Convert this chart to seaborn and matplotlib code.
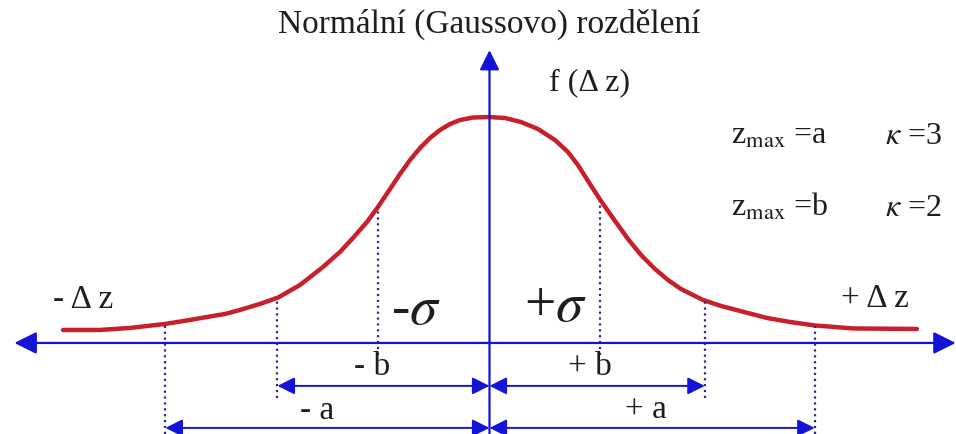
import numpy as np
import pandas as pd
import matplotlib
matplotlib.use('Agg')
import matplotlib.pyplot as plt
import seaborn as sns

sns.set_style('white')
plt.rcParams['font.family'] = ['Liberation Serif', 'DejaVu Serif']
plt.rcParams['mathtext.fontset'] = 'stix'

# curve, x in sigma units, y relative to peak
curve_x = [-3.842, -3.509, -3.239, -2.923, -2.698, -2.545, -2.383, -2.248, -2.068, -1.905,
           -1.707, -1.500, -1.347, -1.230, -1.104, -1.005, -0.896, -0.806, -0.716, -0.626,
           -0.536, -0.446, -0.356, -0.266, -0.149, 0.000, 0.140, 0.284, 0.437, 0.590,
           0.707, 0.797, 0.905, 1.005, 1.131, 1.248, 1.365, 1.491, 1.608, 1.725,
           1.923, 2.086, 2.239, 2.500, 2.707, 2.932, 3.275, 3.851]
curve_y = [0.0575, 0.0575, 0.0664, 0.0841, 0.1018, 0.1150, 0.1283, 0.1460, 0.1726, 0.2010,
           0.2566, 0.3363, 0.4027, 0.4646, 0.5354, 0.6018, 0.6814, 0.7478, 0.8097, 0.8628,
           0.9071, 0.9425, 0.9690, 0.9867, 0.9978, 1.0000, 0.9956, 0.9779, 0.9469, 0.8982,
           0.8451, 0.7876, 0.7035, 0.6283, 0.5398, 0.4602, 0.3894, 0.3274, 0.2788, 0.2389,
           0.1903, 0.1637, 0.1440, 0.1106, 0.0929, 0.0774, 0.0642, 0.0619]

# marked positions on the axis
sigma_pos = [-1.00, 1.00]
sigma_top = [0.602, 0.628]
b_pos = [-1.91, 1.94]
b_top = [0.199, 0.190]
a_pos = [-2.92, 2.93]
a_top = [0.084, 0.077]

blue = '#1414d8'
red = '#c8202a'
dot_col = '#2a2a8a'
txt = '#1e1e1e'

df = pd.DataFrame({'x': curve_x, 'y': curve_y})

fig = plt.figure(figsize=(9.56, 4.34), dpi=100)
ax = fig.add_axes([0, 0, 1, 1])
ax.set_xlim(-4.41, 4.203)
ax.set_ylim(-0.403, 1.518)
ax.axis('off')

# main axes with arrows
ax.annotate('', xy=(4.20, 0), xytext=(-4.28, 0),
            arrowprops=dict(arrowstyle='<|-|>', color=blue, lw=1.6,
                            mutation_scale=34, shrinkA=0, shrinkB=0))
ax.annotate('', xy=(0, 1.296), xytext=(0, -0.403),
            arrowprops=dict(arrowstyle='-|>', color=blue, lw=1.6,
                            mutation_scale=30, shrinkA=0, shrinkB=0))

# curve
sns.lineplot(data=df, x='x', y='y', ax=ax, color=red, linewidth=3.2)

# dotted drop lines
ax.vlines(sigma_pos, -0.053, sigma_top, colors=dot_col, linestyles=':', lw=1.6)
ax.vlines(b_pos, -0.243, b_top, colors=dot_col, linestyles=':', lw=1.6)
ax.vlines(a_pos, -0.403, a_top, colors=dot_col, linestyles=':', lw=1.6)

# dimension arrows
for pos, yy in [(b_pos, -0.190), (a_pos, -0.376)]:
    for p in pos:
        ax.annotate('', xy=(p, yy), xytext=(0, yy),
                    arrowprops=dict(arrowstyle='<|-|>', color=blue, lw=1.4,
                                    mutation_scale=26, shrinkA=0, shrinkB=0))

fs = 23
ax.text(0.0, 1.41, 'Normální (Gaussovo) rozdělení', ha='center', va='center',
        fontsize=24, color=txt)
ax.text(0.905, 1.15, 'f (Δ z)', ha='center', va='center', fontsize=fs, color=txt)
ax.text(2.18, 0.881, r'z$_{\mathrm{max}}$ =a', ha='left', va='baseline', fontsize=fs, color=txt)
ax.text(2.18, 0.562, r'z$_{\mathrm{max}}$ =b', ha='left', va='baseline', fontsize=fs, color=txt)
ax.text(3.56, 0.881, r'$\kappa$ =3', ha='left', va='baseline', fontsize=fs, color=txt)
ax.text(3.56, 0.562, r'$\kappa$ =2', ha='left', va='baseline', fontsize=fs, color=txt)
ax.text(-0.662, 0.146, r'-$\sigma$', ha='center', va='center', fontsize=40, color=txt)
ax.text(0.590, 0.159, r'+$\sigma$', ha='center', va='center', fontsize=40, color=txt)
ax.text(-3.662, 0.190, '- Δ z', ha='center', va='center', fontsize=24, color=txt)
ax.text(3.473, 0.195, '+ Δ z', ha='center', va='center', fontsize=24, color=txt)
ax.text(-1.059, -0.106, '- b', ha='center', va='center', fontsize=24, color=txt)
ax.text(0.905, -0.106, '+ b', ha='center', va='center', fontsize=24, color=txt)
ax.text(-1.554, -0.301, '- a', ha='center', va='center', fontsize=24, color=txt)
ax.text(1.410, -0.296, '+ a', ha='center', va='center', fontsize=24, color=txt)

fig.savefig('out.png', dpi=100)
plt.close(fig)
